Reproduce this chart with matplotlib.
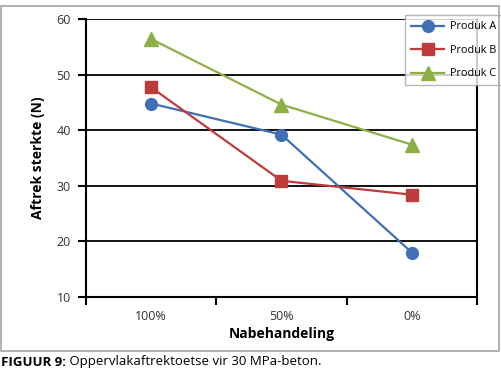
import matplotlib
matplotlib.use("Agg")
import matplotlib.pyplot as plt
from matplotlib.patches import Rectangle

categories = ["100%", "50%", "0%"]
produk_a = [44.8, 39.2, 18.0]
produk_b = [47.7, 30.9, 28.4]
produk_c = [56.4, 44.6, 37.4]
series_names = ["Produk A", "Produk B", "Produk C"]
yticks = [10, 20, 30, 40, 50, 60]

plt.rcParams['font.family'] = ['Open Sans', 'DejaVu Sans']

W, H = 502, 374
fig = plt.figure(figsize=(W/100, H/100), dpi=100)
ax = fig.add_axes([86/W, 1-297/H, (477-86)/W, (297-19)/H])

# outer gray frame
fig.patches.append(Rectangle((1/W, 1-351/H), 498/W, 345/H, transform=fig.transFigure,
                             fill=False, edgecolor='#a6a6a6', linewidth=1.2))

x = list(range(len(categories)))
ax.plot(x, produk_a, color='#3F6FB5', marker='o', markersize=8.5, linewidth=1.6, label=series_names[0], zorder=3)
ax.plot(x, produk_b, color='#BE3B3B', marker='s', markersize=8.5, linewidth=1.6, label=series_names[1], zorder=3)
ax.plot(x, produk_c, color='#8DB046', marker='^', markersize=10.5, linewidth=1.6, label=series_names[2], zorder=3)

ax.set_xlim(-0.5, 2.5)
ax.set_ylim(10, 60)
ax.set_yticks(yticks)
ax.set_yticklabels([str(v) for v in yticks], fontsize=9, color='#333333')
ax.yaxis.grid(True, color='black', linewidth=1.3)
ax.set_axisbelow(True)
ax.set_xticks(x)
ax.set_xticklabels(categories, fontsize=9, color='#333333')
ax.set_xticks([-0.5, 0.5, 1.5, 2.5], minor=True)
ax.tick_params(axis='x', which='major', length=0, pad=9)
ax.tick_params(axis='x', which='minor', length=6, width=1.5, direction='out')
ax.tick_params(axis='y', length=6, width=1.5, direction='out', pad=5)
for s in ['left', 'right', 'bottom']:
    ax.spines[s].set_linewidth(1.5)
ax.spines['top'].set_visible(False)

ax.set_ylabel("Aftrek sterkte (N)", fontsize=10, fontweight='bold', labelpad=8)
ax.set_xlabel("Nabehandeling", fontsize=10, fontweight='bold', labelpad=3)

leg = ax.legend(loc='upper left', bbox_to_anchor=(400/W, 1-10/H), bbox_transform=fig.transFigure,
                fontsize=7.8, frameon=True, fancybox=False, edgecolor='#a6a6a6',
                handlelength=3.0, labelspacing=1.15, borderpad=0.55, handletextpad=0.6)
leg.get_frame().set_linewidth(1.0)

t1 = fig.text(1/W, 1-362/H, "FIGUUR 9:", fontsize=9.5, fontweight='bold', va='center', ha='left')
fig.canvas.draw()
bb = t1.get_window_extent(fig.canvas.get_renderer())
fig.text(bb.x1/W, 1-362/H, " Oppervlakaftrektoetse vir 30 MPa-beton.", fontsize=9.5, va='center', ha='left')

fig.savefig("out.png", dpi=100)
